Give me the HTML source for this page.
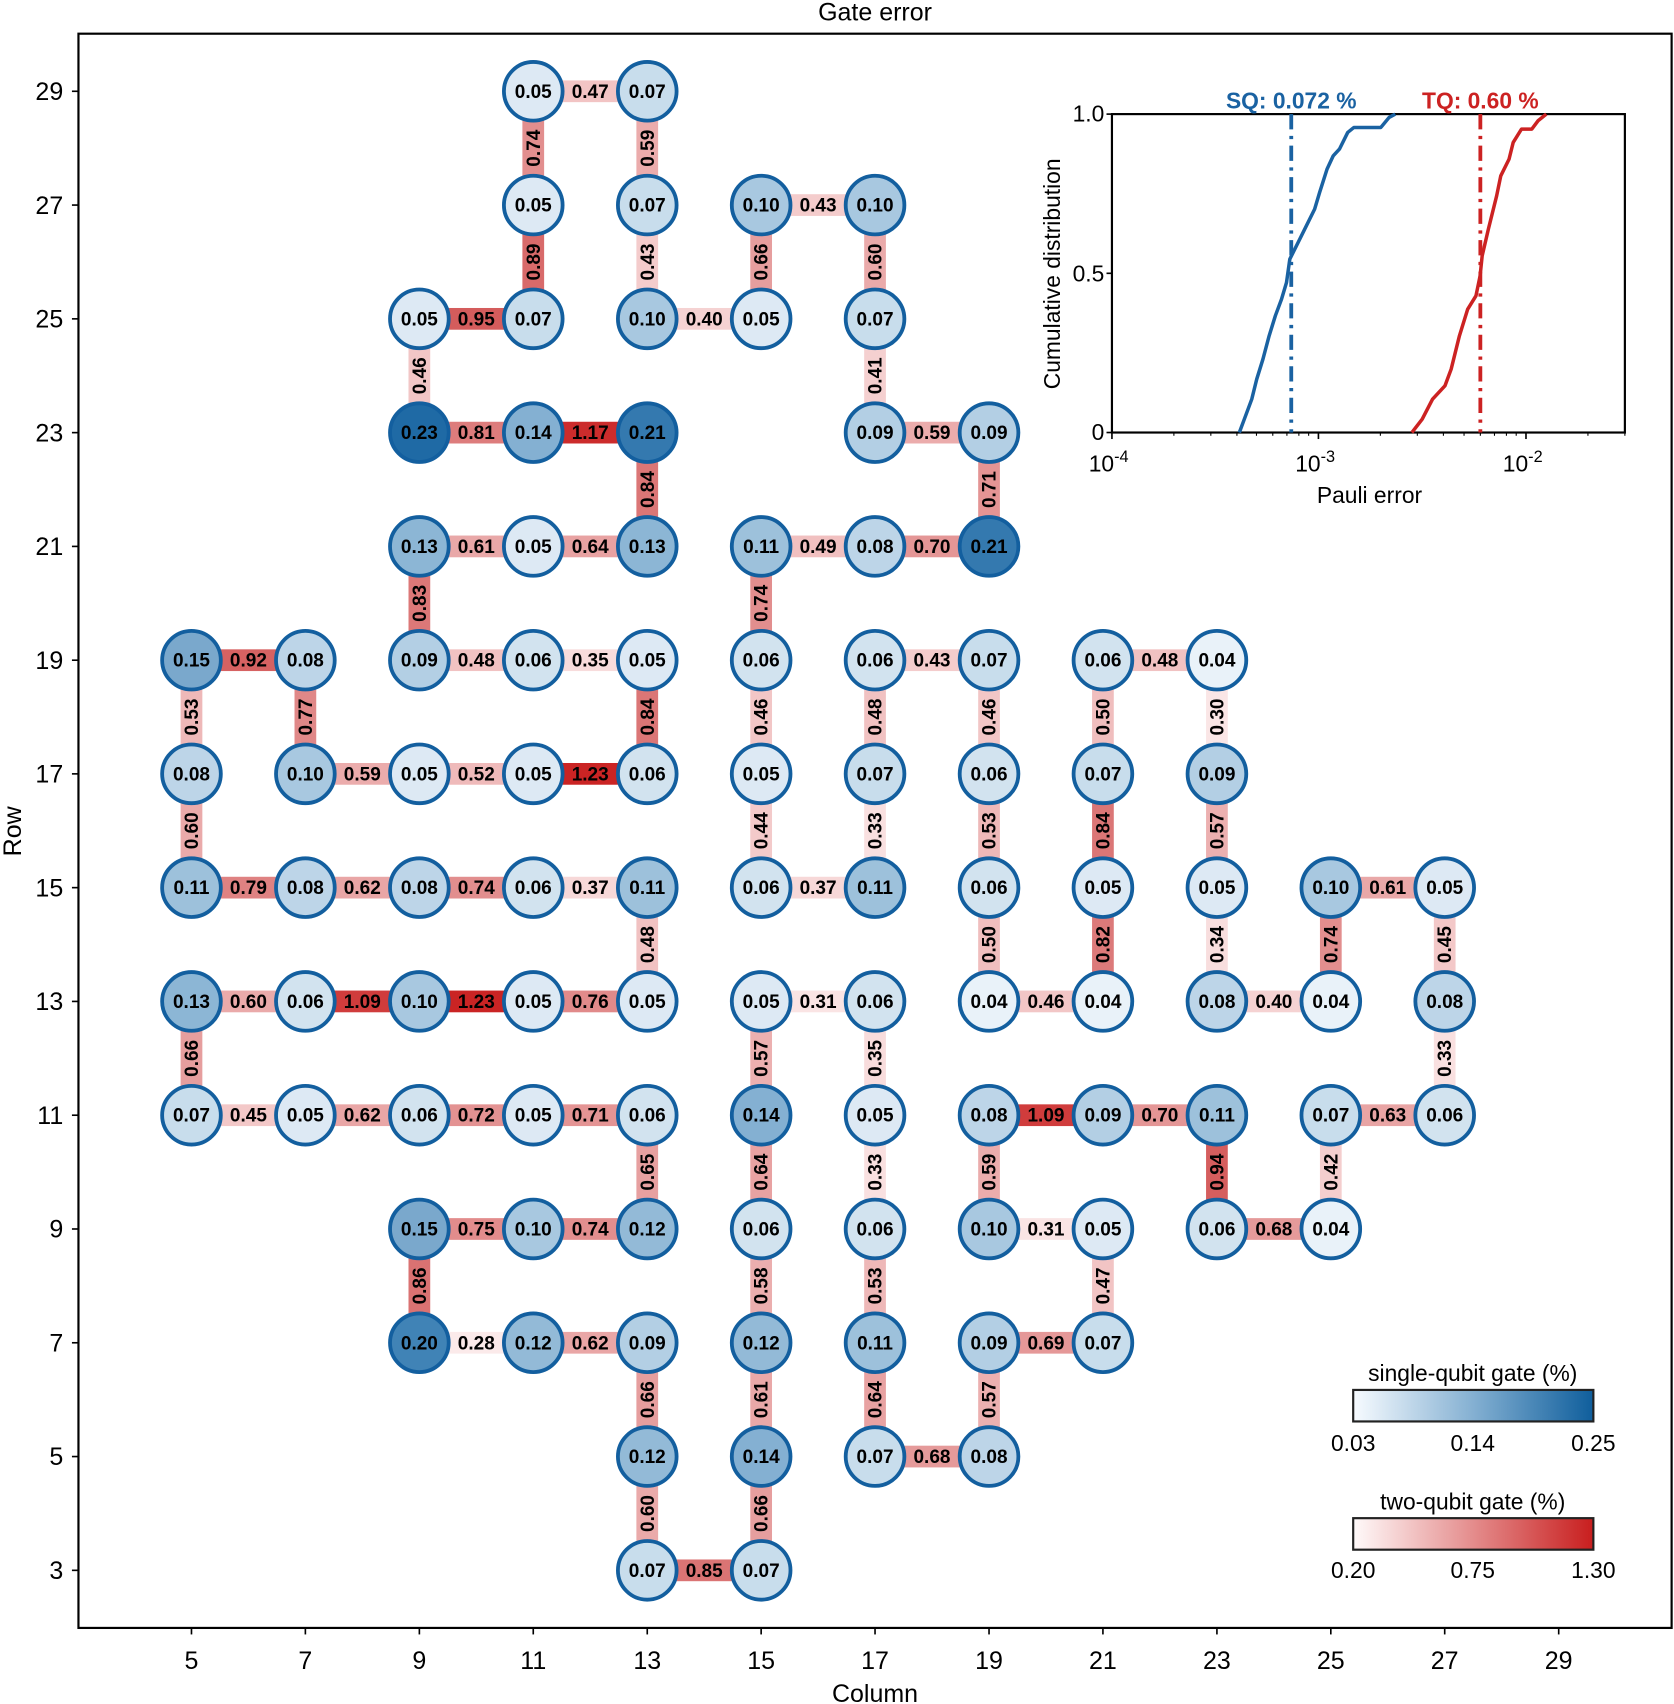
<!DOCTYPE html>
<html><head><meta charset="utf-8"><style>
html,body{margin:0;padding:0;background:#fff}
svg{display:block}
text{font-family:"Liberation Sans",Arial,sans-serif}
.n text,.e text{font-weight:bold;font-size:17.5px;text-anchor:middle}
.n circle{stroke:#135f9f;stroke-width:3.5}
.t{font-size:23px}
</style></head><body>
<svg width="1674" height="1704" viewBox="0 0 1540 1568" xmlns="http://www.w3.org/2000/svg">
<defs>
<linearGradient id="gb" x1="0" x2="1"><stop offset="0" stop-color="#f7fbff"/><stop offset="0.5" stop-color="#84b0d2"/><stop offset="1" stop-color="#0f5e9c"/></linearGradient>
<linearGradient id="gr" x1="0" x2="1"><stop offset="0" stop-color="#fffafa"/><stop offset="0.5" stop-color="#e48c8c"/><stop offset="1" stop-color="#c81e1e"/></linearGradient>
</defs>
<text x="805" y="19" class="t" text-anchor="middle">Gate error</text>
<rect x="72" y="31" width="1466" height="1467" fill="none" stroke="#000" stroke-width="2"/>
<g stroke="#000" stroke-width="1.5">
<line x1="66" x2="72" y1="84" y2="84"/><line x1="66" x2="72" y1="188.7" y2="188.7"/><line x1="66" x2="72" y1="293.4" y2="293.4"/><line x1="66" x2="72" y1="398.1" y2="398.1"/><line x1="66" x2="72" y1="502.8" y2="502.8"/><line x1="66" x2="72" y1="607.5" y2="607.5"/><line x1="66" x2="72" y1="712.1" y2="712.1"/><line x1="66" x2="72" y1="816.8" y2="816.8"/><line x1="66" x2="72" y1="921.5" y2="921.5"/><line x1="66" x2="72" y1="1026.2" y2="1026.2"/><line x1="66" x2="72" y1="1130.9" y2="1130.9"/><line x1="66" x2="72" y1="1235.6" y2="1235.6"/><line x1="66" x2="72" y1="1340.3" y2="1340.3"/><line x1="66" x2="72" y1="1445" y2="1445"/>
<line y1="1498" y2="1504" x1="176" x2="176"/><line y1="1498" y2="1504" x1="280.8" x2="280.8"/><line y1="1498" y2="1504" x1="385.7" x2="385.7"/><line y1="1498" y2="1504" x1="490.5" x2="490.5"/><line y1="1498" y2="1504" x1="595.4" x2="595.4"/><line y1="1498" y2="1504" x1="700.2" x2="700.2"/><line y1="1498" y2="1504" x1="805" x2="805"/><line y1="1498" y2="1504" x1="909.9" x2="909.9"/><line y1="1498" y2="1504" x1="1014.7" x2="1014.7"/><line y1="1498" y2="1504" x1="1119.6" x2="1119.6"/><line y1="1498" y2="1504" x1="1224.4" x2="1224.4"/><line y1="1498" y2="1504" x1="1329.2" x2="1329.2"/><line y1="1498" y2="1504" x1="1434.1" x2="1434.1"/>
</g>
<g class="t" text-anchor="end">
<text x="58" y="92">29</text><text x="58" y="196.7">27</text><text x="58" y="301.4">25</text><text x="58" y="406.1">23</text><text x="58" y="510.8">21</text><text x="58" y="615.5">19</text><text x="58" y="720.1">17</text><text x="58" y="824.8">15</text><text x="58" y="929.5">13</text><text x="58" y="1034.2">11</text><text x="58" y="1138.9">9</text><text x="58" y="1243.6">7</text><text x="58" y="1348.3">5</text><text x="58" y="1453">3</text>
</g>
<g class="t" text-anchor="middle">
<text x="176" y="1536">5</text><text x="280.8" y="1536">7</text><text x="385.7" y="1536">9</text><text x="490.5" y="1536">11</text><text x="595.4" y="1536">13</text><text x="700.2" y="1536">15</text><text x="805" y="1536">17</text><text x="909.9" y="1536">19</text><text x="1014.7" y="1536">21</text><text x="1119.6" y="1536">23</text><text x="1224.4" y="1536">25</text><text x="1329.2" y="1536">27</text><text x="1434.1" y="1536">29</text>
<text x="805" y="1566">Column</text>
<text transform="translate(19,765) rotate(-90)">Row</text>
</g>

<g class="e">
<rect x="490.5" y="74" width="104.8" height="20" fill="#f2c4c4"/><text x="542.9" y="90">0.47</text>
<rect x="700.2" y="178.7" width="104.8" height="20" fill="#f4cccc"/><text x="752.6" y="194.7">0.43</text>
<rect x="385.7" y="283.4" width="104.8" height="20" fill="#d45c5c"/><text x="438.1" y="299.4">0.95</text>
<rect x="595.4" y="283.4" width="104.8" height="20" fill="#f5d2d2"/><text x="647.8" y="299.4">0.40</text>
<rect x="385.7" y="388.1" width="104.8" height="20" fill="#dd7c7c"/><text x="438.1" y="404.1">0.81</text>
<rect x="490.5" y="388.1" width="104.8" height="20" fill="#cc2c2c"/><text x="542.9" y="404.1">1.17</text>
<rect x="805" y="388.1" width="104.8" height="20" fill="#ebacac"/><text x="857.4" y="404.1">0.59</text>
<rect x="385.7" y="492.8" width="104.8" height="20" fill="#e9a8a8"/><text x="438.1" y="508.8">0.61</text>
<rect x="490.5" y="492.8" width="104.8" height="20" fill="#e8a2a2"/><text x="542.9" y="508.8">0.64</text>
<rect x="700.2" y="492.8" width="104.8" height="20" fill="#f1c0c0"/><text x="752.6" y="508.8">0.49</text>
<rect x="805" y="492.8" width="104.8" height="20" fill="#e49696"/><text x="857.4" y="508.8">0.70</text>
<rect x="176" y="597.5" width="104.8" height="20" fill="#d66262"/><text x="228.4" y="613.5">0.92</text>
<rect x="385.7" y="597.5" width="104.8" height="20" fill="#f1c2c2"/><text x="438.1" y="613.5">0.48</text>
<rect x="490.5" y="597.5" width="104.8" height="20" fill="#f8dcdc"/><text x="542.9" y="613.5">0.35</text>
<rect x="805" y="597.5" width="104.8" height="20" fill="#f4cccc"/><text x="857.4" y="613.5">0.43</text>
<rect x="1014.7" y="597.5" width="104.8" height="20" fill="#f1c2c2"/><text x="1067.1" y="613.5">0.48</text>
<rect x="280.8" y="702.1" width="104.8" height="20" fill="#ebacac"/><text x="333.2" y="718.1">0.59</text>
<rect x="385.7" y="702.1" width="104.8" height="20" fill="#efbaba"/><text x="438.1" y="718.1">0.52</text>
<rect x="490.5" y="702.1" width="104.8" height="20" fill="#ca2424"/><text x="542.9" y="718.1">1.23</text>
<rect x="176" y="806.8" width="104.8" height="20" fill="#df8282"/><text x="228.4" y="822.8">0.79</text>
<rect x="280.8" y="806.8" width="104.8" height="20" fill="#e9a6a6"/><text x="333.2" y="822.8">0.62</text>
<rect x="385.7" y="806.8" width="104.8" height="20" fill="#e28e8e"/><text x="438.1" y="822.8">0.74</text>
<rect x="490.5" y="806.8" width="104.8" height="20" fill="#f7d8d8"/><text x="542.9" y="822.8">0.37</text>
<rect x="700.2" y="806.8" width="104.8" height="20" fill="#f7d8d8"/><text x="752.6" y="822.8">0.37</text>
<rect x="1224.4" y="806.8" width="104.8" height="20" fill="#e9a8a8"/><text x="1276.8" y="822.8">0.61</text>
<rect x="176" y="911.5" width="104.8" height="20" fill="#eaaaaa"/><text x="228.4" y="927.5">0.60</text>
<rect x="280.8" y="911.5" width="104.8" height="20" fill="#d03c3c"/><text x="333.2" y="927.5">1.09</text>
<rect x="385.7" y="911.5" width="104.8" height="20" fill="#ca2424"/><text x="438.1" y="927.5">1.23</text>
<rect x="490.5" y="911.5" width="104.8" height="20" fill="#e18a8a"/><text x="542.9" y="927.5">0.76</text>
<rect x="700.2" y="911.5" width="104.8" height="20" fill="#fae4e4"/><text x="752.6" y="927.5">0.31</text>
<rect x="909.9" y="911.5" width="104.8" height="20" fill="#f2c6c6"/><text x="962.3" y="927.5">0.46</text>
<rect x="1119.6" y="911.5" width="104.8" height="20" fill="#f5d2d2"/><text x="1172" y="927.5">0.40</text>
<rect x="176" y="1016.2" width="104.8" height="20" fill="#f3c8c8"/><text x="228.4" y="1032.2">0.45</text>
<rect x="280.8" y="1016.2" width="104.8" height="20" fill="#e9a6a6"/><text x="333.2" y="1032.2">0.62</text>
<rect x="385.7" y="1016.2" width="104.8" height="20" fill="#e39292"/><text x="438.1" y="1032.2">0.72</text>
<rect x="490.5" y="1016.2" width="104.8" height="20" fill="#e49494"/><text x="542.9" y="1032.2">0.71</text>
<rect x="909.9" y="1016.2" width="104.8" height="20" fill="#d03c3c"/><text x="962.3" y="1032.2">1.09</text>
<rect x="1014.7" y="1016.2" width="104.8" height="20" fill="#e49696"/><text x="1067.1" y="1032.2">0.70</text>
<rect x="1224.4" y="1016.2" width="104.8" height="20" fill="#e8a4a4"/><text x="1276.8" y="1032.2">0.63</text>
<rect x="385.7" y="1120.9" width="104.8" height="20" fill="#e28c8c"/><text x="438.1" y="1136.9">0.75</text>
<rect x="490.5" y="1120.9" width="104.8" height="20" fill="#e28e8e"/><text x="542.9" y="1136.9">0.74</text>
<rect x="909.9" y="1120.9" width="104.8" height="20" fill="#fae4e4"/><text x="962.3" y="1136.9">0.31</text>
<rect x="1119.6" y="1120.9" width="104.8" height="20" fill="#e59a9a"/><text x="1172" y="1136.9">0.68</text>
<rect x="385.7" y="1225.6" width="104.8" height="20" fill="#fbeaea"/><text x="438.1" y="1241.6">0.28</text>
<rect x="490.5" y="1225.6" width="104.8" height="20" fill="#e9a6a6"/><text x="542.9" y="1241.6">0.62</text>
<rect x="909.9" y="1225.6" width="104.8" height="20" fill="#e59898"/><text x="962.3" y="1241.6">0.69</text>
<rect x="805" y="1330.3" width="104.8" height="20" fill="#e59a9a"/><text x="857.4" y="1346.3">0.68</text>
<rect x="595.4" y="1435" width="104.8" height="20" fill="#da7474"/><text x="647.8" y="1451">0.85</text>
</g>

<g class="e">
<rect x="480.5" y="84" width="20" height="104.7" fill="#e28e8e"/><text transform="translate(496.5,136.4) rotate(-90)">0.74</text>
<rect x="480.5" y="188.7" width="20" height="104.7" fill="#d86a6a"/><text transform="translate(496.5,241.1) rotate(-90)">0.89</text>
<rect x="585.4" y="84" width="20" height="104.7" fill="#ebacac"/><text transform="translate(601.4,136.4) rotate(-90)">0.59</text>
<rect x="585.4" y="188.7" width="20" height="104.7" fill="#f4cccc"/><text transform="translate(601.4,241.1) rotate(-90)">0.43</text>
<rect x="585.4" y="398.1" width="20" height="104.7" fill="#db7676"/><text transform="translate(601.4,450.5) rotate(-90)">0.84</text>
<rect x="585.4" y="607.5" width="20" height="104.7" fill="#db7676"/><text transform="translate(601.4,659.8) rotate(-90)">0.84</text>
<rect x="585.4" y="816.8" width="20" height="104.7" fill="#f1c2c2"/><text transform="translate(601.4,869.2) rotate(-90)">0.48</text>
<rect x="585.4" y="1026.2" width="20" height="104.7" fill="#e7a0a0"/><text transform="translate(601.4,1078.6) rotate(-90)">0.65</text>
<rect x="585.4" y="1235.6" width="20" height="104.7" fill="#e69e9e"/><text transform="translate(601.4,1288) rotate(-90)">0.66</text>
<rect x="585.4" y="1340.3" width="20" height="104.7" fill="#eaaaaa"/><text transform="translate(601.4,1392.7) rotate(-90)">0.60</text>
<rect x="795" y="188.7" width="20" height="104.7" fill="#eaaaaa"/><text transform="translate(811,241.1) rotate(-90)">0.60</text>
<rect x="795" y="293.4" width="20" height="104.7" fill="#f5d0d0"/><text transform="translate(811,345.8) rotate(-90)">0.41</text>
<rect x="795" y="607.5" width="20" height="104.7" fill="#f1c2c2"/><text transform="translate(811,659.8) rotate(-90)">0.48</text>
<rect x="795" y="712.1" width="20" height="104.7" fill="#f9e0e0"/><text transform="translate(811,764.5) rotate(-90)">0.33</text>
<rect x="795" y="921.5" width="20" height="104.7" fill="#f8dcdc"/><text transform="translate(811,973.9) rotate(-90)">0.35</text>
<rect x="795" y="1026.2" width="20" height="104.7" fill="#f9e0e0"/><text transform="translate(811,1078.6) rotate(-90)">0.33</text>
<rect x="795" y="1130.9" width="20" height="104.7" fill="#eeb8b8"/><text transform="translate(811,1183.3) rotate(-90)">0.53</text>
<rect x="795" y="1235.6" width="20" height="104.7" fill="#e8a2a2"/><text transform="translate(811,1288) rotate(-90)">0.64</text>
<rect x="375.7" y="293.4" width="20" height="104.7" fill="#f2c6c6"/><text transform="translate(391.7,345.8) rotate(-90)">0.46</text>
<rect x="375.7" y="502.8" width="20" height="104.7" fill="#dc7878"/><text transform="translate(391.7,555.2) rotate(-90)">0.83</text>
<rect x="375.7" y="1130.9" width="20" height="104.7" fill="#da7272"/><text transform="translate(391.7,1183.3) rotate(-90)">0.86</text>
<rect x="899.9" y="398.1" width="20" height="104.7" fill="#e49494"/><text transform="translate(915.9,450.5) rotate(-90)">0.71</text>
<rect x="899.9" y="607.5" width="20" height="104.7" fill="#f2c6c6"/><text transform="translate(915.9,659.8) rotate(-90)">0.46</text>
<rect x="899.9" y="712.1" width="20" height="104.7" fill="#eeb8b8"/><text transform="translate(915.9,764.5) rotate(-90)">0.53</text>
<rect x="899.9" y="816.8" width="20" height="104.7" fill="#f0bebe"/><text transform="translate(915.9,869.2) rotate(-90)">0.50</text>
<rect x="899.9" y="1026.2" width="20" height="104.7" fill="#ebacac"/><text transform="translate(915.9,1078.6) rotate(-90)">0.59</text>
<rect x="899.9" y="1235.6" width="20" height="104.7" fill="#ecb0b0"/><text transform="translate(915.9,1288) rotate(-90)">0.57</text>
<rect x="690.2" y="188.7" width="20" height="104.7" fill="#e69e9e"/><text transform="translate(706.2,241.1) rotate(-90)">0.66</text>
<rect x="690.2" y="502.8" width="20" height="104.7" fill="#e28e8e"/><text transform="translate(706.2,555.2) rotate(-90)">0.74</text>
<rect x="690.2" y="607.5" width="20" height="104.7" fill="#f2c6c6"/><text transform="translate(706.2,659.8) rotate(-90)">0.46</text>
<rect x="690.2" y="712.1" width="20" height="104.7" fill="#f3caca"/><text transform="translate(706.2,764.5) rotate(-90)">0.44</text>
<rect x="690.2" y="921.5" width="20" height="104.7" fill="#ecb0b0"/><text transform="translate(706.2,973.9) rotate(-90)">0.57</text>
<rect x="690.2" y="1026.2" width="20" height="104.7" fill="#e8a2a2"/><text transform="translate(706.2,1078.6) rotate(-90)">0.64</text>
<rect x="690.2" y="1130.9" width="20" height="104.7" fill="#ebaeae"/><text transform="translate(706.2,1183.3) rotate(-90)">0.58</text>
<rect x="690.2" y="1235.6" width="20" height="104.7" fill="#e9a8a8"/><text transform="translate(706.2,1288) rotate(-90)">0.61</text>
<rect x="690.2" y="1340.3" width="20" height="104.7" fill="#e69e9e"/><text transform="translate(706.2,1392.7) rotate(-90)">0.66</text>
<rect x="166" y="607.5" width="20" height="104.7" fill="#eeb8b8"/><text transform="translate(182,659.8) rotate(-90)">0.53</text>
<rect x="166" y="712.1" width="20" height="104.7" fill="#eaaaaa"/><text transform="translate(182,764.5) rotate(-90)">0.60</text>
<rect x="166" y="921.5" width="20" height="104.7" fill="#e69e9e"/><text transform="translate(182,973.9) rotate(-90)">0.66</text>
<rect x="270.8" y="607.5" width="20" height="104.7" fill="#e08888"/><text transform="translate(286.8,659.8) rotate(-90)">0.77</text>
<rect x="1004.7" y="607.5" width="20" height="104.7" fill="#f0bebe"/><text transform="translate(1020.7,659.8) rotate(-90)">0.50</text>
<rect x="1004.7" y="712.1" width="20" height="104.7" fill="#db7676"/><text transform="translate(1020.7,764.5) rotate(-90)">0.84</text>
<rect x="1004.7" y="816.8" width="20" height="104.7" fill="#dc7a7a"/><text transform="translate(1020.7,869.2) rotate(-90)">0.82</text>
<rect x="1004.7" y="1130.9" width="20" height="104.7" fill="#f2c4c4"/><text transform="translate(1020.7,1183.3) rotate(-90)">0.47</text>
<rect x="1109.6" y="607.5" width="20" height="104.7" fill="#fae6e6"/><text transform="translate(1125.6,659.8) rotate(-90)">0.30</text>
<rect x="1109.6" y="712.1" width="20" height="104.7" fill="#ecb0b0"/><text transform="translate(1125.6,764.5) rotate(-90)">0.57</text>
<rect x="1109.6" y="816.8" width="20" height="104.7" fill="#f8dede"/><text transform="translate(1125.6,869.2) rotate(-90)">0.34</text>
<rect x="1109.6" y="1026.2" width="20" height="104.7" fill="#d55e5e"/><text transform="translate(1125.6,1078.6) rotate(-90)">0.94</text>
<rect x="1214.4" y="816.8" width="20" height="104.7" fill="#e28e8e"/><text transform="translate(1230.4,869.2) rotate(-90)">0.74</text>
<rect x="1214.4" y="1026.2" width="20" height="104.7" fill="#f4cece"/><text transform="translate(1230.4,1078.6) rotate(-90)">0.42</text>
<rect x="1319.2" y="816.8" width="20" height="104.7" fill="#f3c8c8"/><text transform="translate(1335.2,869.2) rotate(-90)">0.45</text>
<rect x="1319.2" y="921.5" width="20" height="104.7" fill="#f9e0e0"/><text transform="translate(1335.2,973.9) rotate(-90)">0.33</text>
</g>

<g class="n">
<g transform="translate(490.5,84)"><circle r="27" fill="#dde9f4"/><text y="6">0.05</text></g>
<g transform="translate(595.4,84)"><circle r="27" fill="#c8ddec"/><text y="6">0.07</text></g>
<g transform="translate(490.5,188.7)"><circle r="27" fill="#dde9f4"/><text y="6">0.05</text></g>
<g transform="translate(595.4,188.7)"><circle r="27" fill="#c8ddec"/><text y="6">0.07</text></g>
<g transform="translate(700.2,188.7)"><circle r="27" fill="#a8c8e0"/><text y="6">0.10</text></g>
<g transform="translate(805,188.7)"><circle r="27" fill="#a8c8e0"/><text y="6">0.10</text></g>
<g transform="translate(385.7,293.4)"><circle r="27" fill="#dde9f4"/><text y="6">0.05</text></g>
<g transform="translate(490.5,293.4)"><circle r="27" fill="#c8ddec"/><text y="6">0.07</text></g>
<g transform="translate(595.4,293.4)"><circle r="27" fill="#a8c8e0"/><text y="6">0.10</text></g>
<g transform="translate(700.2,293.4)"><circle r="27" fill="#dde9f4"/><text y="6">0.05</text></g>
<g transform="translate(805,293.4)"><circle r="27" fill="#c8ddec"/><text y="6">0.07</text></g>
<g transform="translate(385.7,398.1)"><circle r="27" fill="#1f6aa5"/><text y="6">0.23</text></g>
<g transform="translate(490.5,398.1)"><circle r="27" fill="#84b0d2"/><text y="6">0.14</text></g>
<g transform="translate(595.4,398.1)"><circle r="27" fill="#3479af"/><text y="6">0.21</text></g>
<g transform="translate(805,398.1)"><circle r="27" fill="#b3cfe4"/><text y="6">0.09</text></g>
<g transform="translate(909.9,398.1)"><circle r="27" fill="#b3cfe4"/><text y="6">0.09</text></g>
<g transform="translate(385.7,502.8)"><circle r="27" fill="#8cb6d5"/><text y="6">0.13</text></g>
<g transform="translate(490.5,502.8)"><circle r="27" fill="#dde9f4"/><text y="6">0.05</text></g>
<g transform="translate(595.4,502.8)"><circle r="27" fill="#8cb6d5"/><text y="6">0.13</text></g>
<g transform="translate(700.2,502.8)"><circle r="27" fill="#9dc1db"/><text y="6">0.11</text></g>
<g transform="translate(805,502.8)"><circle r="27" fill="#bdd5e8"/><text y="6">0.08</text></g>
<g transform="translate(909.9,502.8)"><circle r="27" fill="#3479af"/><text y="6">0.21</text></g>
<g transform="translate(176,607.5)"><circle r="27" fill="#7aa8cc"/><text y="6">0.15</text></g>
<g transform="translate(280.8,607.5)"><circle r="27" fill="#bdd5e8"/><text y="6">0.08</text></g>
<g transform="translate(385.7,607.5)"><circle r="27" fill="#b3cfe4"/><text y="6">0.09</text></g>
<g transform="translate(490.5,607.5)"><circle r="27" fill="#d2e3ef"/><text y="6">0.06</text></g>
<g transform="translate(595.4,607.5)"><circle r="27" fill="#dde9f4"/><text y="6">0.05</text></g>
<g transform="translate(700.2,607.5)"><circle r="27" fill="#d2e3ef"/><text y="6">0.06</text></g>
<g transform="translate(805,607.5)"><circle r="27" fill="#d2e3ef"/><text y="6">0.06</text></g>
<g transform="translate(909.9,607.5)"><circle r="27" fill="#c8ddec"/><text y="6">0.07</text></g>
<g transform="translate(1014.7,607.5)"><circle r="27" fill="#d2e3ef"/><text y="6">0.06</text></g>
<g transform="translate(1119.6,607.5)"><circle r="27" fill="#e9f2f9"/><text y="6">0.04</text></g>
<g transform="translate(176,712.1)"><circle r="27" fill="#bdd5e8"/><text y="6">0.08</text></g>
<g transform="translate(280.8,712.1)"><circle r="27" fill="#a8c8e0"/><text y="6">0.10</text></g>
<g transform="translate(385.7,712.1)"><circle r="27" fill="#dde9f4"/><text y="6">0.05</text></g>
<g transform="translate(490.5,712.1)"><circle r="27" fill="#dde9f4"/><text y="6">0.05</text></g>
<g transform="translate(595.4,712.1)"><circle r="27" fill="#d2e3ef"/><text y="6">0.06</text></g>
<g transform="translate(700.2,712.1)"><circle r="27" fill="#dde9f4"/><text y="6">0.05</text></g>
<g transform="translate(805,712.1)"><circle r="27" fill="#c8ddec"/><text y="6">0.07</text></g>
<g transform="translate(909.9,712.1)"><circle r="27" fill="#d2e3ef"/><text y="6">0.06</text></g>
<g transform="translate(1014.7,712.1)"><circle r="27" fill="#c8ddec"/><text y="6">0.07</text></g>
<g transform="translate(1119.6,712.1)"><circle r="27" fill="#b3cfe4"/><text y="6">0.09</text></g>
<g transform="translate(176,816.8)"><circle r="27" fill="#9dc1db"/><text y="6">0.11</text></g>
<g transform="translate(280.8,816.8)"><circle r="27" fill="#bdd5e8"/><text y="6">0.08</text></g>
<g transform="translate(385.7,816.8)"><circle r="27" fill="#bdd5e8"/><text y="6">0.08</text></g>
<g transform="translate(490.5,816.8)"><circle r="27" fill="#d2e3ef"/><text y="6">0.06</text></g>
<g transform="translate(595.4,816.8)"><circle r="27" fill="#9dc1db"/><text y="6">0.11</text></g>
<g transform="translate(700.2,816.8)"><circle r="27" fill="#d2e3ef"/><text y="6">0.06</text></g>
<g transform="translate(805,816.8)"><circle r="27" fill="#9dc1db"/><text y="6">0.11</text></g>
<g transform="translate(909.9,816.8)"><circle r="27" fill="#d2e3ef"/><text y="6">0.06</text></g>
<g transform="translate(1014.7,816.8)"><circle r="27" fill="#dde9f4"/><text y="6">0.05</text></g>
<g transform="translate(1119.6,816.8)"><circle r="27" fill="#dde9f4"/><text y="6">0.05</text></g>
<g transform="translate(1224.4,816.8)"><circle r="27" fill="#a8c8e0"/><text y="6">0.10</text></g>
<g transform="translate(1329.2,816.8)"><circle r="27" fill="#dde9f4"/><text y="6">0.05</text></g>
<g transform="translate(176,921.5)"><circle r="27" fill="#8cb6d5"/><text y="6">0.13</text></g>
<g transform="translate(280.8,921.5)"><circle r="27" fill="#d2e3ef"/><text y="6">0.06</text></g>
<g transform="translate(385.7,921.5)"><circle r="27" fill="#a8c8e0"/><text y="6">0.10</text></g>
<g transform="translate(490.5,921.5)"><circle r="27" fill="#dde9f4"/><text y="6">0.05</text></g>
<g transform="translate(595.4,921.5)"><circle r="27" fill="#dde9f4"/><text y="6">0.05</text></g>
<g transform="translate(700.2,921.5)"><circle r="27" fill="#dde9f4"/><text y="6">0.05</text></g>
<g transform="translate(805,921.5)"><circle r="27" fill="#d2e3ef"/><text y="6">0.06</text></g>
<g transform="translate(909.9,921.5)"><circle r="27" fill="#e9f2f9"/><text y="6">0.04</text></g>
<g transform="translate(1014.7,921.5)"><circle r="27" fill="#e9f2f9"/><text y="6">0.04</text></g>
<g transform="translate(1119.6,921.5)"><circle r="27" fill="#bdd5e8"/><text y="6">0.08</text></g>
<g transform="translate(1224.4,921.5)"><circle r="27" fill="#e9f2f9"/><text y="6">0.04</text></g>
<g transform="translate(1329.2,921.5)"><circle r="27" fill="#bdd5e8"/><text y="6">0.08</text></g>
<g transform="translate(176,1026.2)"><circle r="27" fill="#c8ddec"/><text y="6">0.07</text></g>
<g transform="translate(280.8,1026.2)"><circle r="27" fill="#dde9f4"/><text y="6">0.05</text></g>
<g transform="translate(385.7,1026.2)"><circle r="27" fill="#d2e3ef"/><text y="6">0.06</text></g>
<g transform="translate(490.5,1026.2)"><circle r="27" fill="#dde9f4"/><text y="6">0.05</text></g>
<g transform="translate(595.4,1026.2)"><circle r="27" fill="#d2e3ef"/><text y="6">0.06</text></g>
<g transform="translate(700.2,1026.2)"><circle r="27" fill="#84b0d2"/><text y="6">0.14</text></g>
<g transform="translate(805,1026.2)"><circle r="27" fill="#dde9f4"/><text y="6">0.05</text></g>
<g transform="translate(909.9,1026.2)"><circle r="27" fill="#bdd5e8"/><text y="6">0.08</text></g>
<g transform="translate(1014.7,1026.2)"><circle r="27" fill="#b3cfe4"/><text y="6">0.09</text></g>
<g transform="translate(1119.6,1026.2)"><circle r="27" fill="#9dc1db"/><text y="6">0.11</text></g>
<g transform="translate(1224.4,1026.2)"><circle r="27" fill="#c8ddec"/><text y="6">0.07</text></g>
<g transform="translate(1329.2,1026.2)"><circle r="27" fill="#d2e3ef"/><text y="6">0.06</text></g>
<g transform="translate(385.7,1130.9)"><circle r="27" fill="#7aa8cc"/><text y="6">0.15</text></g>
<g transform="translate(490.5,1130.9)"><circle r="27" fill="#a8c8e0"/><text y="6">0.10</text></g>
<g transform="translate(595.4,1130.9)"><circle r="27" fill="#93bad7"/><text y="6">0.12</text></g>
<g transform="translate(700.2,1130.9)"><circle r="27" fill="#d2e3ef"/><text y="6">0.06</text></g>
<g transform="translate(805,1130.9)"><circle r="27" fill="#d2e3ef"/><text y="6">0.06</text></g>
<g transform="translate(909.9,1130.9)"><circle r="27" fill="#a8c8e0"/><text y="6">0.10</text></g>
<g transform="translate(1014.7,1130.9)"><circle r="27" fill="#dde9f4"/><text y="6">0.05</text></g>
<g transform="translate(1119.6,1130.9)"><circle r="27" fill="#d2e3ef"/><text y="6">0.06</text></g>
<g transform="translate(1224.4,1130.9)"><circle r="27" fill="#e9f2f9"/><text y="6">0.04</text></g>
<g transform="translate(385.7,1235.6)"><circle r="27" fill="#4083b6"/><text y="6">0.20</text></g>
<g transform="translate(490.5,1235.6)"><circle r="27" fill="#93bad7"/><text y="6">0.12</text></g>
<g transform="translate(595.4,1235.6)"><circle r="27" fill="#b3cfe4"/><text y="6">0.09</text></g>
<g transform="translate(700.2,1235.6)"><circle r="27" fill="#93bad7"/><text y="6">0.12</text></g>
<g transform="translate(805,1235.6)"><circle r="27" fill="#9dc1db"/><text y="6">0.11</text></g>
<g transform="translate(909.9,1235.6)"><circle r="27" fill="#b3cfe4"/><text y="6">0.09</text></g>
<g transform="translate(1014.7,1235.6)"><circle r="27" fill="#c8ddec"/><text y="6">0.07</text></g>
<g transform="translate(595.4,1340.3)"><circle r="27" fill="#93bad7"/><text y="6">0.12</text></g>
<g transform="translate(700.2,1340.3)"><circle r="27" fill="#84b0d2"/><text y="6">0.14</text></g>
<g transform="translate(805,1340.3)"><circle r="27" fill="#c8ddec"/><text y="6">0.07</text></g>
<g transform="translate(909.9,1340.3)"><circle r="27" fill="#bdd5e8"/><text y="6">0.08</text></g>
<g transform="translate(595.4,1445)"><circle r="27" fill="#c8ddec"/><text y="6">0.07</text></g>
<g transform="translate(700.2,1445)"><circle r="27" fill="#c8ddec"/><text y="6">0.07</text></g>
</g>

<g font-size="21" text-anchor="middle">
<text x="1355" y="1271">single-qubit gate (%)</text>
<rect x="1245" y="1279" width="221" height="29" fill="url(#gb)" stroke="#222" stroke-width="2"/>
<text x="1245" y="1335">0.03</text><text x="1355" y="1335">0.14</text><text x="1466" y="1335">0.25</text>
<text x="1355" y="1389">two-qubit gate (%)</text>
<rect x="1245" y="1397" width="221" height="29" fill="url(#gr)" stroke="#222" stroke-width="2"/>
<text x="1245" y="1452">0.20</text><text x="1355" y="1452">0.75</text><text x="1466" y="1452">1.30</text>
</g>

<g>
<rect x="1023" y="105" width="472" height="293" fill="#fff" stroke="#000" stroke-width="2"/>
<g stroke="#000" stroke-width="1.5">
<line x1="1018" x2="1023" y1="105" y2="105"/><line x1="1018" x2="1023" y1="251.5" y2="251.5"/><line x1="1018" x2="1023" y1="398" y2="398"/>
<line x1="1023" x2="1023" y1="398" y2="404"/><line x1="1213" x2="1213" y1="398" y2="404"/><line x1="1404" x2="1404" y1="398" y2="404"/>
</g>
<g stroke="#000" stroke-width="1">
<line x1="1080" x2="1080" y1="398" y2="401"/><line x1="1114" x2="1114" y1="398" y2="401"/><line x1="1138" x2="1138" y1="398" y2="401"/><line x1="1156" x2="1156" y1="398" y2="401"/><line x1="1171" x2="1171" y1="398" y2="401"/><line x1="1184" x2="1184" y1="398" y2="401"/><line x1="1195" x2="1195" y1="398" y2="401"/><line x1="1204" x2="1204" y1="398" y2="401"/>
<line x1="1270" x2="1270" y1="398" y2="401"/><line x1="1304" x2="1304" y1="398" y2="401"/><line x1="1328" x2="1328" y1="398" y2="401"/><line x1="1347" x2="1347" y1="398" y2="401"/><line x1="1362" x2="1362" y1="398" y2="401"/><line x1="1375" x2="1375" y1="398" y2="401"/><line x1="1386" x2="1386" y1="398" y2="401"/><line x1="1395" x2="1395" y1="398" y2="401"/>
<line x1="1461" x2="1461" y1="398" y2="401"/><line x1="1495" x2="1495" y1="398" y2="401"/>
</g>
<g transform="translate(943.06,63.58) scale(0.38065,0.30681)" fill="none" stroke-width="3.5" stroke-linejoin="round">
<polyline vector-effect="non-scaling-stroke" stroke="#1a62a2" points="518,1090 530,1050 548,990 560,930 575,870 590,800 605,740 620,690 632,640 640,570 660,520 680,470 700,420 712,370 730,300 745,260 760,240 780,190 795,175 860,175 880,145 895,135"/>
<polyline vector-effect="non-scaling-stroke" stroke="#cc2222" points="935,1090 960,1050 985,990 1015,950 1030,900 1050,800 1070,720 1090,680 1100,620 1105,560 1120,480 1140,380 1150,320 1170,270 1180,220 1200,180 1225,180 1240,155 1260,135"/>
</g>
<line x1="1188" x2="1188" y1="105" y2="398" stroke="#1a62a2" stroke-width="3.5" stroke-dasharray="14,6,3,6"/>
<line x1="1362" x2="1362" y1="105" y2="398" stroke="#cc2222" stroke-width="3.5" stroke-dasharray="14,6,3,6"/>
<text x="1188" y="100" font-size="21" font-weight="bold" fill="#1a62a2" text-anchor="middle">SQ: 0.072 %</text>
<text x="1362" y="100" font-size="21" font-weight="bold" fill="#cc2222" text-anchor="middle">TQ: 0.60 %</text>
<g font-size="21" text-anchor="end">
<text x="1016" y="112">1.0</text><text x="1016" y="259">0.5</text><text x="1016" y="405">0</text>
</g>
<g font-size="21" text-anchor="middle">
<text x="1020" y="434">10<tspan font-size="15" dy="-9">-4</tspan></text>
<text x="1210" y="434">10<tspan font-size="15" dy="-9">-3</tspan></text>
<text x="1401" y="434">10<tspan font-size="15" dy="-9">-2</tspan></text>
<text x="1260" y="463">Pauli error</text>
<text transform="translate(975,252) rotate(-90)">Cumulative distribution</text>
</g>
</g>
</svg>
</body></html>
